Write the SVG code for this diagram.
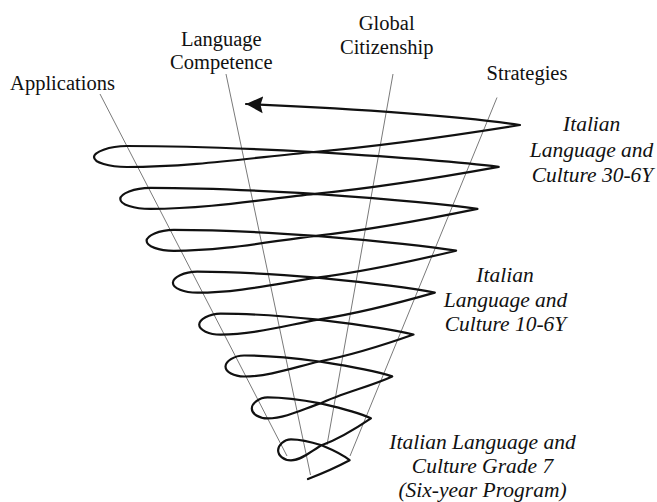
<svg xmlns="http://www.w3.org/2000/svg" width="657" height="502" viewBox="0 0 657 502">
  <style>
    .axis { stroke: #7a7a7a; stroke-width: 1; fill: none; }
    .spiral { stroke: #111; stroke-width: 2.2; fill: none; stroke-linejoin: round; stroke-linecap: round; }
    .lbl { font-family: "Liberation Serif", "Times New Roman", serif; font-size: 20.5px; fill: #111; text-anchor: middle; }
    .ital { font-family: "Liberation Serif", "Times New Roman", serif; font-size: 21.5px; font-style: italic; fill: #111; text-anchor: middle; }
  </style>
  <defs>
    <marker id="arrow" markerUnits="userSpaceOnUse" markerWidth="18" markerHeight="18" viewBox="0 0 18 18" refX="17" refY="9" orient="auto">
      <path d="M17,9 L0,0.5 L2.5,9 L0,17.5 z" fill="#111"/>
    </marker>
  </defs>
  <rect width="657" height="502" fill="#fff"/>

  <g id="axes">
    <line class="axis" x1="100" y1="94" x2="287" y2="456"/>
    <line class="axis" x1="226" y1="74" x2="310.5" y2="475"/>
    <line class="axis" x1="393" y1="74" x2="327" y2="445"/>
    <line class="axis" x1="497" y1="97.5" x2="350" y2="456"/>
  </g>

  <g id="connectors">
    <path id="spiral" class="spiral" marker-end="url(#arrow)" d="M308,479 C322,473.5 336,467.5 349.6,460.2
      C341.2,453.3 330.0,448.8 321.6,445.3 C312.4,442.3 301.7,439.3 291.0,439.3 C283.9,439.3 278.1,445.4 278.1,450.3 C278.1,455.8 283.9,460.3 291.0,460.3 C301.7,460.3 312.4,450.3 321.6,445.3 C336.4,439.8 356.1,428.3 370.9,418.3
      C355.8,411.4 335.6,406.9 320.5,403.4 C304.6,400.4 286.1,397.4 267.6,397.4 C258.9,397.4 251.8,403.5 251.8,408.4 C251.8,413.9 258.9,418.4 267.6,418.4 C286.1,418.4 304.6,408.4 320.5,403.4 C342.0,392.9 370.7,386.4 392.2,376.4
      C370.3,369.5 341.2,365.0 319.3,361.5 C296.7,358.5 270.4,355.5 244.1,355.5 C233.8,355.5 225.5,361.6 225.5,366.5 C225.5,372.0 233.8,376.5 244.1,376.5 C270.4,376.5 296.7,366.5 319.3,361.5 C347.6,356.0 385.2,344.5 413.5,334.5
      C384.9,327.6 346.8,323.1 318.2,319.6 C289.0,316.6 254.8,313.6 220.7,313.6 C208.8,313.6 199.2,319.7 199.2,324.6 C199.2,330.1 208.8,334.6 220.7,334.6 C254.8,334.6 289.0,324.6 318.2,319.6 C353.2,314.1 399.8,302.6 434.8,292.6
      C399.5,285.7 352.4,281.2 317.1,277.7 C281.2,274.7 239.2,271.7 197.3,271.7 C183.8,271.7 172.9,277.8 172.9,282.7 C172.9,288.2 183.8,292.7 197.3,292.7 C239.2,292.7 281.2,282.7 317.1,277.7 C358.8,272.2 414.4,260.7 456.1,250.7
      C414.1,243.8 358.0,239.3 316.0,235.8 C273.3,232.8 223.6,229.8 173.8,229.8 C158.8,229.8 146.6,235.9 146.6,240.8 C146.6,246.3 158.8,250.8 173.8,250.8 C223.6,250.8 273.3,240.8 316.0,235.8 C364.4,230.3 429.0,218.8 477.4,208.8
      C428.7,201.9 363.6,197.4 314.9,193.9 C265.5,190.9 208.0,187.9 150.4,187.9 C133.8,187.9 120.3,194.0 120.3,198.9 C120.3,204.4 133.8,208.9 150.4,208.9 C208.0,208.9 265.5,198.9 314.9,193.9 C370.0,188.4 443.6,176.9 498.7,166.9
      C443.2,160 369.2,155.5 313.7,152 C257.7,149 192.3,146 126.9,146 C108.7,146 94,152.1 94,157 C94,162.5 108.7,167 126.9,167 C192.3,167 257.7,157 313.7,152 C375.6,146.5 458.1,135 520,125
      C460,116 360,109 246,104"/>
  </g>

  <g id="applications"><text class="lbl" x="62.5" y="89.5">Applications</text></g>
  <g id="language-competence">
    <text class="lbl" x="221.3" y="45.5">Language</text>
    <text class="lbl" x="221.3" y="68.5">Competence</text>
  </g>
  <g id="global-citizenship">
    <text class="lbl" x="386.7" y="29.5">Global</text>
    <text class="lbl" x="386.7" y="53.5">Citizenship</text>
  </g>
  <g id="strategies"><text class="lbl" x="527" y="80">Strategies</text></g>

  <g id="level-30-6y">
    <text class="ital" x="591.7" y="131">Italian</text>
    <text class="ital" x="591.5" y="156.5">Language and</text>
    <text class="ital" x="592.5" y="181.5">Culture 30-6Y</text>
  </g>
  <g id="level-10-6y">
    <text class="ital" x="505" y="281.5">Italian</text>
    <text class="ital" x="505.5" y="306.5">Language and</text>
    <text class="ital" x="505.5" y="331">Culture 10-6Y</text>
  </g>
  <g id="level-grade-7">
    <text class="ital" x="482.5" y="448.5">Italian Language and</text>
    <text class="ital" x="482.5" y="473">Culture Grade 7</text>
    <text class="ital" x="482.5" y="497">(Six-year Program)</text>
  </g>
</svg>
